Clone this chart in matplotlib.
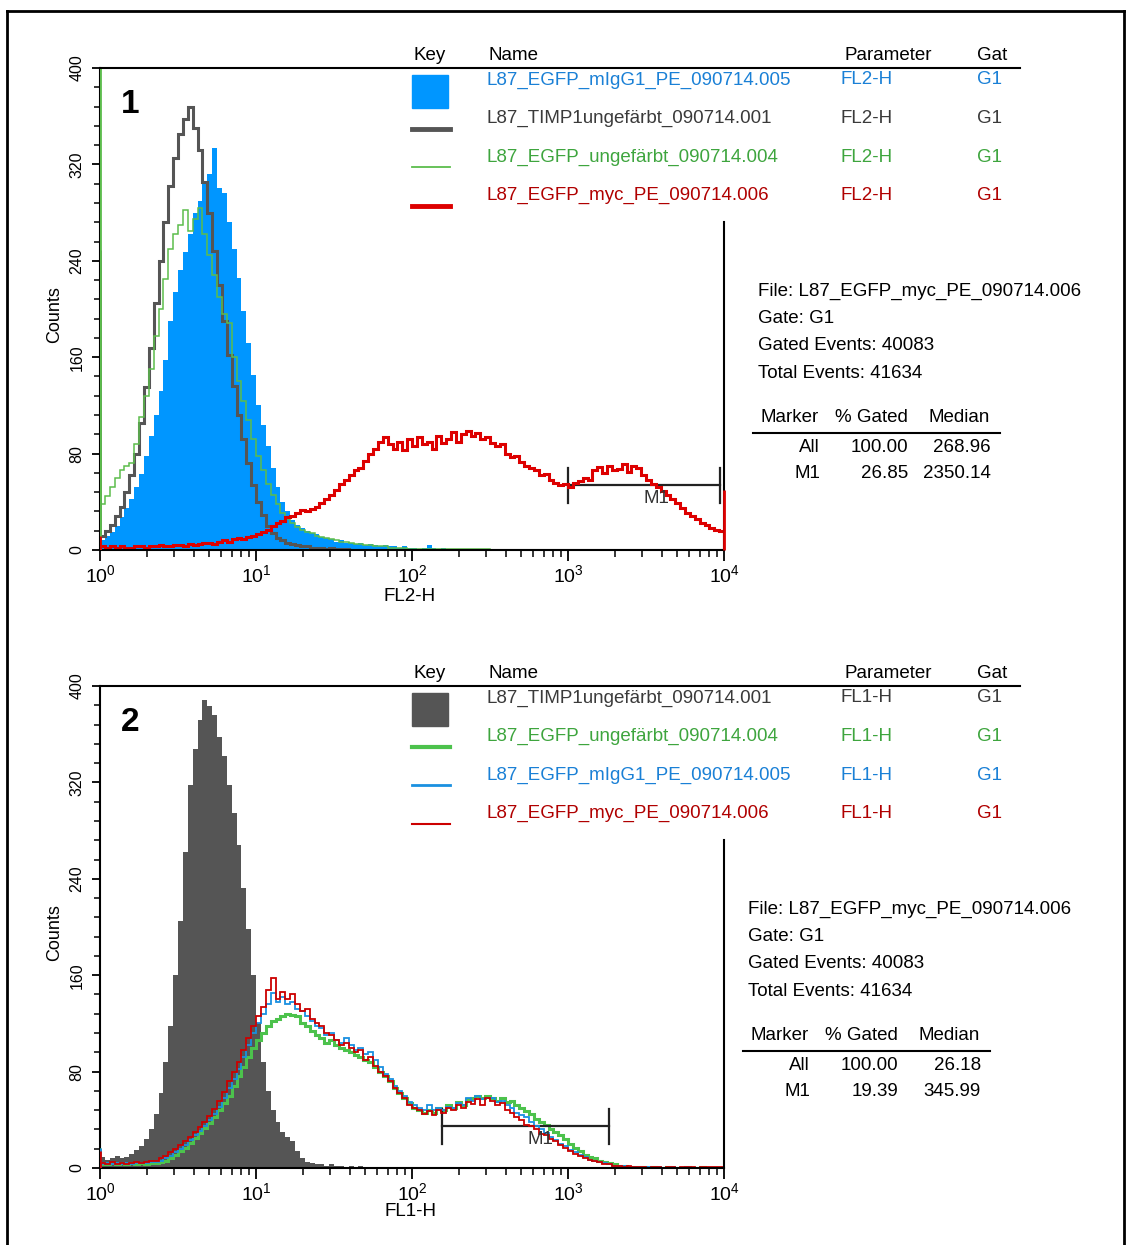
import numpy as np
import matplotlib
matplotlib.use('Agg')
import matplotlib.pyplot as plt
from matplotlib.lines import Line2D
from matplotlib.patches import Rectangle
from matplotlib.ticker import MultipleLocator

plt.rcParams['font.family'] = ['Liberation Sans', 'DejaVu Sans']

W, H = 1134, 1245

# 128 channels, 32 per decade, from 10^0 to 10^4
edges = np.logspace(0, 4, 129)

# ---------- panel 1 (FL2-H) ----------
p1_migg1 = [8, 12, 15, 20, 27, 35, 42, 52, 63, 78, 95, 112, 132, 158, 190, 214,
            232, 247, 262, 280, 290, 305, 312, 334, 300, 296, 272, 250, 226, 198, 172, 145,
            120, 104, 86, 68, 52, 40, 32, 25, 21, 18, 16, 14, 13, 11, 10, 9,
            7, 8, 6, 6, 5, 6, 4, 5, 4, 3, 4, 3, 3, 2, 3, 2,
            2, 1, 2, 4, 2, 1, 2, 1, 1, 1, 0, 1, 0, 0, 1, 0,
            1, 0, 0, 1, 0, 0, 1, 0, 0, 1] + [0] * 38
p1_timp1 = [12, 16, 21, 28, 36, 48, 62, 80, 105, 135, 168, 205, 240, 272, 302, 325,
            345, 358, 368, 350, 332, 305, 280, 248, 220, 190, 162, 136, 112, 92, 72, 54,
            40, 29, 20, 14, 10, 8, 6, 5, 4, 3, 3, 2, 2, 2, 1, 2,
            1, 1, 1] + [0] * 77
p1_egfp = [38, 45, 52, 60, 66, 70, 72, 88, 110, 128, 150, 178, 200, 225, 250, 262,
           270, 282, 265, 275, 284, 262, 245, 228, 210, 196, 188, 160, 140, 124, 108, 92,
           78, 66, 55, 46, 38, 31, 26, 22, 19, 17, 15, 14, 12, 11, 10, 9,
           8, 7, 7, 6, 5, 5, 4, 4, 3, 3, 3, 2, 2, 2, 2, 1] + [1] * 16 + [0] * 48
p1_myc = [3, 2, 3, 2, 3, 2, 2, 3, 3, 2, 3, 3, 4, 3, 3, 4,
          4, 3, 5, 4, 5, 6, 6, 5, 7, 8, 7, 9, 10, 9, 11, 12,
          13, 15, 17, 20, 22, 24, 27, 28, 31, 33, 32, 34, 36, 39, 42, 46,
          50, 55, 58, 62, 66, 68, 74, 80, 84, 90, 94, 88, 84, 90, 83, 92,
          86, 94, 88, 90, 84, 95, 89, 92, 98, 90, 96, 99, 95, 97, 92, 94,
          89, 86, 88, 80, 77, 78, 73, 70, 68, 66, 62, 63, 58, 56, 54, 55,
          52, 56, 57, 60, 58, 66, 69, 64, 70, 66, 67, 71, 65, 70, 68, 62,
          58, 55, 52, 49, 46, 42, 39, 35, 31, 28, 26, 22, 21, 18, 17, 16]
p1_first = {'migg1': 12, 'timp1': 249, 'egfp': 420, 'myc': 12}
p1_last_myc = 50
p1_m1 = (1000, 9430)

# ---------- panel 2 (FL1-H) ----------
p2_timp1 = [9, 7, 8, 10, 8, 9, 12, 15, 18, 24, 32, 45, 62, 88, 118, 160,
            205, 262, 318, 348, 372, 388, 383, 376, 358, 342, 318, 295, 268, 232, 198, 160,
            120, 88, 64, 48, 38, 30, 26, 22, 14, 8, 5, 4, 3, 3, 2, 3,
            2, 2, 1, 2, 1, 2, 1, 1, 1, 0, 1, 1, 0, 1, 0, 0,
            1, 0, 0, 1, 0, 0, 0, 1] + [0] * 56
p2_egfp = [3, 3, 4, 3, 4, 3, 4, 3, 4, 3, 4, 4, 5, 6, 8, 11,
           14, 17, 21, 25, 29, 33, 37, 42, 48, 54, 60, 68, 76, 84, 92, 100,
           106, 112, 118, 122, 124, 126, 128, 127, 126, 120, 118, 114, 110, 108, 104, 106,
           102, 100, 98, 96, 94, 92, 90, 88, 84, 80, 76, 72, 66, 62, 58, 54,
           50, 48, 46, 48, 46, 50, 48, 52, 50, 55, 52, 57, 58, 60, 58, 60,
           58, 56, 58, 55, 56, 52, 50, 47, 45, 41, 38, 36, 32, 30, 27, 24,
           20, 17, 14, 11, 9, 8, 6, 5, 4, 3, 2, 2, 1, 1, 1, 1,
           0, 1, 0, 0, 1, 0, 0, 0, 1, 0, 0, 1, 0, 0, 0, 0]
p2_migg1 = [3, 4, 3, 4, 3, 4, 3, 4, 4, 4, 5, 5, 6, 8, 10, 13,
            16, 19, 23, 27, 31, 35, 40, 45, 51, 58, 66, 74, 82, 92, 102, 112,
            120, 128, 136, 145, 138, 142, 136, 138, 132, 130, 126, 122, 118, 116, 110, 112,
            106, 104, 108, 102, 98, 100, 95, 96, 90, 84, 78, 74, 68, 64, 60, 55,
            52, 50, 48, 52, 48, 50, 48, 51, 50, 54, 52, 58, 56, 60, 57, 58,
            58, 55, 56, 52, 50, 46, 44, 42, 38, 35, 32, 29, 26, 23, 20, 18,
            15, 13, 11, 9, 7, 6, 5, 4, 3, 2, 2, 2, 1, 1, 1, 0,
            1, 0, 1, 0, 0, 1, 0, 0, 1, 0, 0, 0, 0, 0, 0, 0]
p2_myc = [4, 3, 5, 3, 4, 3, 4, 5, 4, 5, 6, 6, 8, 10, 13, 16,
          19, 22, 26, 30, 34, 38, 43, 49, 56, 63, 72, 80, 88, 98, 108, 118,
          126, 134, 148, 158, 140, 146, 140, 144, 136, 130, 132, 124, 120, 118, 112, 110,
          106, 102, 104, 100, 96, 98, 90, 92, 85, 80, 76, 72, 66, 62, 58, 52,
          50, 48, 45, 47, 44, 48, 46, 50, 48, 52, 50, 55, 53, 57, 52, 58,
          56, 52, 54, 48, 46, 42, 40, 36, 35, 32, 28, 27, 24, 22, 19, 17,
          14, 12, 10, 8, 7, 6, 5, 3, 3, 2, 2, 1, 2, 1, 1, 1,
          0, 1, 1, 0, 1, 1, 0, 1, 1, 1, 0, 1, 1, 1, 1, 1]
p2_first = {'timp1': 10, 'egfp': 17, 'migg1': 17, 'myc': 14}
p2_m1 = (155, 1841)

# legend tables and statistics
p1_names = ['L87_EGFP_mIgG1_PE_090714.005', 'L87_TIMP1ungefärbt_090714.001',
            'L87_EGFP_ungefärbt_090714.004', 'L87_EGFP_myc_PE_090714.006']
p2_names = ['L87_TIMP1ungefärbt_090714.001', 'L87_EGFP_ungefärbt_090714.004',
            'L87_EGFP_mIgG1_PE_090714.005', 'L87_EGFP_myc_PE_090714.006']
info_lines = ['File: L87_EGFP_myc_PE_090714.006', 'Gate: G1',
              'Gated Events: 40083', 'Total Events: 41634']
p1_stats = [('All', '100.00', '268.96'), ('M1', '26.85', '2350.14')]
p2_stats = [('All', '100.00', '26.18'), ('M1', '19.39', '345.99')]

BLUE_FILL = '#0096ff'
GRAY = '#555555'
GREEN = '#5cbd4c'
RED = '#dd0000'
txt_col = {'blue': '#1a80d6', 'gray': '#3a3a3a', 'green': '#3ea53e', 'red': '#b00000'}

fig = plt.figure(figsize=(W / 100, H / 100), dpi=100)


def fx(x):
    return x / W


def fy(y):
    return 1 - y / H


def ftext(x, y, s, **kw):
    kw.setdefault('fontsize', 13.5)
    kw.setdefault('va', 'center')
    fig.text(fx(x), fy(y), s, **kw)


def fline(x0, x1, y0, y1, **kw):
    kw.setdefault('color', 'black')
    kw.setdefault('lw', 1.5)
    fig.add_artist(Line2D([fx(x0), fx(x1)], [fy(y0), fy(y1)], transform=fig.transFigure, **kw))


def make_axes(top):
    bottom = top + 482
    ax = fig.add_axes([fx(100), fy(bottom), fx(724) - fx(100), fy(top) - fy(bottom)])
    ax.set_xscale('log')
    ax.set_xlim(1, 1e4)
    ax.set_ylim(0, 400)
    ax.set_yticks([0, 80, 160, 240, 320, 400])
    ax.yaxis.set_minor_locator(MultipleLocator(16))
    ax.tick_params(axis='y', which='major', direction='out', length=6, width=1.3,
                   labelsize=11.5, labelrotation=90, pad=5)
    ax.tick_params(axis='y', which='minor', direction='out', length=4, width=1.1)
    ax.tick_params(axis='x', which='major', direction='out', length=8, width=1.3,
                   labelsize=14, pad=2)
    ax.tick_params(axis='x', which='minor', direction='out', length=5, width=1.1)
    for lbl in ax.get_yticklabels():
        lbl.set_va('center')
    ax.spines['top'].set_visible(False)
    ax.spines['right'].set_bounds(0, 272)
    for sp in ax.spines.values():
        sp.set_linewidth(1.5)
    # header rule / top frame line
    fline(100, 1020, top, top)
    ftext(55, top + 247, 'Counts', rotation=90, ha='center', fontsize=13)
    return ax


def legend_rows(top, rows):
    ftext(430, top - 13, 'Key', ha='center')
    ftext(488, top - 13, 'Name')
    ftext(845, top - 13, 'Parameter')
    ftext(977, top - 13, 'Gat')
    for i, (kind, col, lw, name, par, tcol) in enumerate(rows):
        yc = top + 12 + i * 38.5
        if kind == 'patch':
            fig.add_artist(Rectangle((fx(412), fy(yc + 28)), fx(448) - fx(412), fy(yc - 5) - fy(yc + 28),
                                     transform=fig.transFigure, color=col))
        else:
            fline(412, 450, yc + 10, yc + 10, color=col, lw=lw)
        ftext(487, yc, name, color=tcol)
        ftext(841, yc, par, color=tcol)
        ftext(977, yc, 'G1', color=tcol)


def stats_block(x0, top, stats):
    for i, s in enumerate(info_lines):
        ftext(x0, top + 223 + i * 27.5, s)
    hy = top + 350
    ftext(x0 + 2, hy, 'Marker')
    ftext(x0 + 77, hy, '% Gated')
    ftext(x0 + 170, hy, 'Median')
    fline(x0 - 5, x0 + 242, hy + 15, hy + 15)
    for i, (m, g, med) in enumerate(stats):
        yy = hy + 29 + i * 27
        ftext(x0 + 62, yy, m, ha='right')
        ftext(x0 + 150, yy, g, ha='right')
        ftext(x0 + 233, yy, med, ha='right')


def m1_marker(ax, rng, y, y0, y1, lab_x, lab_y):
    ax.plot(rng, [y, y], color='#222222', lw=1.6)
    for xv in rng:
        ax.plot([xv, xv], [y0, y1], color='#222222', lw=1.6)
    ax.text(lab_x, lab_y, 'M1', fontsize=13.5, color='#333333', ha='center', va='center')


# ---------- panel 1 ----------
ax1 = make_axes(68)
ax1.stairs(p1_migg1, edges, fill=True, color=BLUE_FILL, zorder=1)
ax1.stairs(p1_timp1, edges, color=GRAY, lw=2.2, zorder=2)
ax1.stairs(p1_egfp, edges, color=GREEN, lw=1.1, zorder=2.1)
ax1.stairs(p1_myc, edges, color=RED, lw=2.2, zorder=2.2)
for key, col, lw in [('migg1', BLUE_FILL, 2), ('timp1', GRAY, 2), ('egfp', GREEN, 2), ('myc', RED, 2)]:
    ax1.vlines(1.0, 0, min(p1_first[key], 400), color=col, lw=lw, zorder=3)
ax1.vlines(1e4, 0, p1_last_myc, color=RED, lw=2, zorder=3, clip_on=False)
m1_marker(ax1, p1_m1, 54, 39, 68, 3715, 43)
ax1.text(1.56, 370, '1', fontsize=24, fontweight='bold', ha='center', va='center')
ftext(410, 597, 'FL2-H', ha='center', fontsize=13.5)
legend_rows(68, [('patch', BLUE_FILL, 0, p1_names[0], 'FL2-H', txt_col['blue']),
                 ('line', GRAY, 3.5, p1_names[1], 'FL2-H', txt_col['gray']),
                 ('line', GREEN, 1.3, p1_names[2], 'FL2-H', txt_col['green']),
                 ('line', RED, 3.5, p1_names[3], 'FL2-H', txt_col['red'])])
stats_block(758, 68, p1_stats)

# ---------- panel 2 ----------
ax2 = make_axes(686)
ax2.stairs(p2_timp1, edges, fill=True, color=GRAY, zorder=1)
ax2.stairs(p2_egfp, edges, color='#4cc24c', lw=2.2, zorder=2)
ax2.stairs(p2_migg1, edges, color='#1a90e0', lw=1.3, zorder=2.1)
ax2.stairs(p2_myc, edges, color='#cc0000', lw=1.3, zorder=2.2)
for key, col in [('timp1', GRAY), ('egfp', '#4cc24c'), ('migg1', '#1a90e0'), ('myc', '#cc0000')]:
    ax2.vlines(1.0, 0, p2_first[key], color=col, lw=2, zorder=3)
m1_marker(ax2, p2_m1, 35, 20, 49, 661, 24)
ax2.text(1.56, 370, '2', fontsize=24, fontweight='bold', ha='center', va='center')
ftext(410, 1212, 'FL1-H', ha='center', fontsize=13.5)
legend_rows(686, [('patch', GRAY, 0, p2_names[0], 'FL1-H', txt_col['gray']),
                  ('line', '#4cc24c', 3, p2_names[1], 'FL1-H', txt_col['green']),
                  ('line', '#1a90e0', 2, p2_names[2], 'FL1-H', txt_col['blue']),
                  ('line', '#cc0000', 1.5, p2_names[3], 'FL1-H', txt_col['red'])])
stats_block(748, 686, p2_stats)

# outer frame
fline(7, 7, 11, 1245, lw=2)
fline(7, 1124, 11, 11, lw=2)
fline(1124, 1124, 11, 1245, lw=2)

fig.savefig('out.png', dpi=100)
